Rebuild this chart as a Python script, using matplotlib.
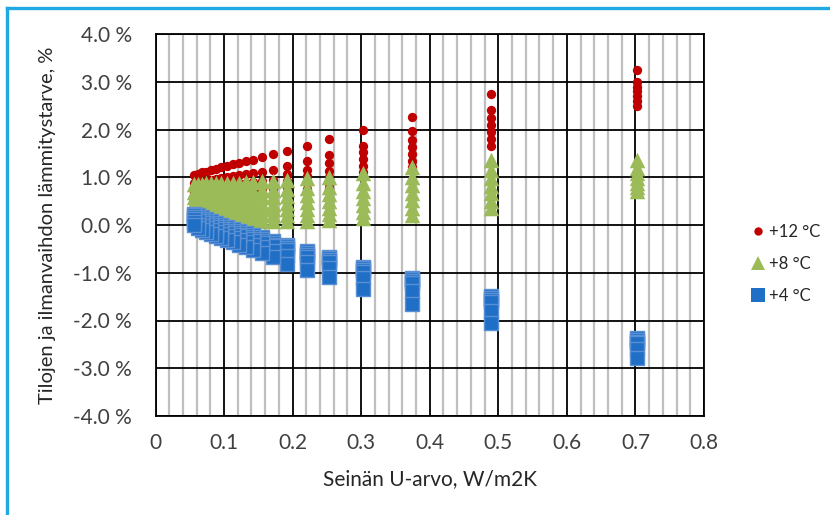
import numpy as np
import matplotlib
matplotlib.use("Agg")
import matplotlib.pyplot as plt
from matplotlib.lines import Line2D
from matplotlib.ticker import MultipleLocator, FuncFormatter

plt.rcParams['font.family'] = ['Lato', 'DejaVu Sans']

# Wall U-values (W/m2K), one column of points per value
u_values = [0.056, 0.062, 0.068, 0.074, 0.081, 0.088, 0.096, 0.104, 0.113, 0.122, 0.132,
            0.142, 0.155, 0.171, 0.192, 0.221, 0.253, 0.303, 0.374, 0.489, 0.703]

# Change in heating demand (%) for supply air +12 °C, one row per U-value
heat_12 = [
    [1.05, 0.88, 0.78, 0.69, 0.60, 0.52, 0.45],
    [1.07, 0.89, 0.79, 0.70, 0.61, 0.53, 0.46],
    [1.10, 0.90, 0.80, 0.70, 0.62, 0.54, 0.47],
    [1.12, 0.92, 0.81, 0.71, 0.62, 0.54, 0.47],
    [1.15, 0.94, 0.82, 0.71, 0.63, 0.55, 0.48],
    [1.18, 0.96, 0.83, 0.72, 0.63, 0.55, 0.48],
    [1.21, 0.98, 0.84, 0.72, 0.64, 0.56, 0.49],
    [1.24, 1.00, 0.85, 0.73, 0.64, 0.56, 0.49],
    [1.27, 1.02, 0.86, 0.73, 0.65, 0.57, 0.50],
    [1.30, 1.04, 0.87, 0.74, 0.65, 0.57, 0.50],
    [1.33, 1.06, 0.88, 0.74, 0.66, 0.58, 0.51],
    [1.37, 1.09, 0.90, 0.75, 0.66, 0.58, 0.51],
    [1.43, 1.12, 0.92, 0.76, 0.67, 0.59, 0.52],
    [1.49, 1.16, 0.95, 0.78, 0.68, 0.60, 0.53],
    [1.56, 1.24, 1.06, 0.92, 0.80, 0.70, 0.60],
    [1.66, 1.33, 1.16, 1.02, 0.88, 0.76, 0.66],
    [1.81, 1.47, 1.30, 1.14, 1.00, 0.88, 0.78],
    [2.00, 1.66, 1.52, 1.38, 1.24, 1.12, 1.01],
    [2.27, 1.96, 1.79, 1.63, 1.48, 1.35, 1.22],
    [2.74, 2.40, 2.25, 2.10, 1.95, 1.80, 1.65],
    [3.24, 3.00, 2.90, 2.80, 2.70, 2.60, 2.50],
]

# Supply air +8 °C
heat_8 = [
    [0.86, 0.70, 0.58, 0.47, 0.37, 0.27, 0.18],
    [0.86, 0.70, 0.58, 0.47, 0.37, 0.27, 0.17],
    [0.86, 0.70, 0.58, 0.47, 0.36, 0.26, 0.16],
    [0.87, 0.70, 0.58, 0.47, 0.36, 0.26, 0.16],
    [0.87, 0.71, 0.58, 0.46, 0.36, 0.25, 0.15],
    [0.87, 0.71, 0.58, 0.46, 0.35, 0.25, 0.14],
    [0.88, 0.71, 0.58, 0.46, 0.35, 0.24, 0.14],
    [0.88, 0.71, 0.58, 0.46, 0.35, 0.24, 0.13],
    [0.89, 0.72, 0.58, 0.46, 0.34, 0.23, 0.12],
    [0.89, 0.72, 0.58, 0.45, 0.34, 0.23, 0.12],
    [0.90, 0.72, 0.58, 0.45, 0.34, 0.22, 0.11],
    [0.90, 0.72, 0.58, 0.45, 0.33, 0.22, 0.10],
    [0.92, 0.73, 0.59, 0.45, 0.33, 0.21, 0.09],
    [0.93, 0.74, 0.59, 0.45, 0.33, 0.20, 0.08],
    [0.95, 0.75, 0.60, 0.46, 0.33, 0.20, 0.08],
    [0.99, 0.78, 0.62, 0.48, 0.34, 0.21, 0.08],
    [1.01, 0.80, 0.64, 0.50, 0.36, 0.23, 0.10],
    [1.09, 0.88, 0.72, 0.57, 0.42, 0.28, 0.15],
    [1.22, 1.01, 0.84, 0.68, 0.52, 0.36, 0.21],
    [1.37, 1.15, 0.98, 0.82, 0.66, 0.50, 0.36],
    [1.37, 1.20, 1.08, 0.98, 0.89, 0.80, 0.72],
]

# Supply air +4 °C
heat_4 = [
    [0.24, 0.20, 0.16, 0.12, 0.06, -0.01],
    [0.20, 0.16, 0.12, 0.08, 0.01, -0.06],
    [0.16, 0.12, 0.08, 0.04, -0.03, -0.10],
    [0.12, 0.08, 0.04, 0.00, -0.07, -0.14],
    [0.08, 0.04, 0.00, -0.04, -0.11, -0.18],
    [0.04, 0.00, -0.04, -0.08, -0.15, -0.22],
    [0.00, -0.04, -0.08, -0.12, -0.19, -0.27],
    [-0.04, -0.08, -0.12, -0.16, -0.23, -0.31],
    [-0.08, -0.12, -0.16, -0.20, -0.27, -0.36],
    [-0.12, -0.16, -0.20, -0.24, -0.31, -0.41],
    [-0.17, -0.21, -0.25, -0.29, -0.36, -0.46],
    [-0.21, -0.25, -0.29, -0.33, -0.41, -0.52],
    [-0.26, -0.30, -0.34, -0.38, -0.47, -0.59],
    [-0.33, -0.37, -0.41, -0.45, -0.55, -0.68],
    [-0.41, -0.45, -0.49, -0.53, -0.64, -0.81],
    [-0.54, -0.58, -0.62, -0.66, -0.77, -0.94],
    [-0.66, -0.70, -0.74, -0.78, -0.90, -1.08],
    [-0.87, -0.91, -0.95, -0.99, -1.12, -1.34],
    [-1.10, -1.14, -1.18, -1.22, -1.38, -1.65],
    [-1.49, -1.53, -1.57, -1.61, -1.80, -2.06],
    [-2.36, -2.40, -2.44, -2.48, -2.60, -2.78],
]

series_labels = ['+12 °C', '+8 °C', '+4 °C']
x_ticks = [0, 0.1, 0.2, 0.3, 0.4, 0.5, 0.6, 0.7, 0.8]
y_ticks = [-4, -3, -2, -1, 0, 1, 2, 3, 4]

W, H = 830, 515
fig = plt.figure(figsize=(W / 100, H / 100), dpi=100)
ax = fig.add_axes([155.5 / W, (H - 416) / H, (704 - 155.5) / W, (416 - 34) / H])


def flatten(rows):
    # Larger U-values first so the left-hand columns end up on top
    xs, ys = [], []
    for u, row in reversed(list(zip(u_values, rows))):
        xs.extend([u] * len(row))
        ys.extend(row)
    return np.array(xs), np.array(ys)


x12, y12 = flatten(heat_12)
x8, y8 = flatten(heat_8)
x4, y4 = flatten(heat_4)

red, green, blue = '#C00000', '#9BBB59', '#1F6FC6'
ax.scatter(x12, y12, s=45, marker='o', color=red, linewidths=0, zorder=3)
ax.scatter(x8, y8, s=125, marker='^', color=green, linewidths=0, zorder=4)
ax.scatter(x4, y4, s=112, marker='s', facecolor=blue, edgecolor='#5B8FD3',
           linewidths=1.0, zorder=5)

ax.set_xlim(0, 0.8)
ax.set_ylim(-4, 4)
ax.set_xticks(x_ticks)
ax.set_yticks(y_ticks)
ax.xaxis.set_minor_locator(MultipleLocator(0.02))
ax.xaxis.set_major_formatter(FuncFormatter(lambda v, p: '0' if abs(v) < 1e-9 else f'{v:.1f}'))
ax.yaxis.set_major_formatter(FuncFormatter(lambda v, p: f'{v:.1f} %'))

ax.grid(which='minor', axis='x', color='#BFBFBF', linewidth=1.6, zorder=1)
ax.grid(which='major', axis='both', color='black', linewidth=1.3, zorder=2)
ax.set_axisbelow(True)
for sp in ax.spines.values():
    sp.set_color('black')
    sp.set_linewidth(1.3)

ax.tick_params(which='both', length=0, labelsize=15, colors='#404040')
ax.tick_params(axis='x', pad=12)
ax.tick_params(axis='y', pad=17)

ax.set_xlabel('Seinän U-arvo, W/m2K', fontsize=15, color='#262626', labelpad=12)
ax.set_ylabel('Tilojen ja ilmanvaihdon lämmitystarve, %', fontsize=14.5,
              color='#262626', labelpad=12)

handles = [
    Line2D([], [], linestyle='none', marker='o', markersize=6, color=red, markeredgewidth=0),
    Line2D([], [], linestyle='none', marker='^', markersize=10, color=green, markeredgewidth=0),
    Line2D([], [], linestyle='none', marker='s', markersize=9.5, color=blue, markeredgewidth=0),
]
fig.legend(handles, series_labels, loc='center left', bbox_to_anchor=(741 / W, 1 - 264 / H),
           frameon=False, fontsize=12, handlelength=0.6, handletextpad=0.35,
           labelspacing=0.95, labelcolor='#262626', borderpad=0.2)

# Light blue frame along the left and top edges
fig.add_artist(Line2D([7 / W, 7 / W], [0, 1 - 8 / H], color='#1FA8E2', linewidth=2.4))
fig.add_artist(Line2D([7 / W, 1], [1 - 8 / H, 1 - 8 / H], color='#1FA8E2', linewidth=2.4))

fig.savefig('out.png', dpi=100)
